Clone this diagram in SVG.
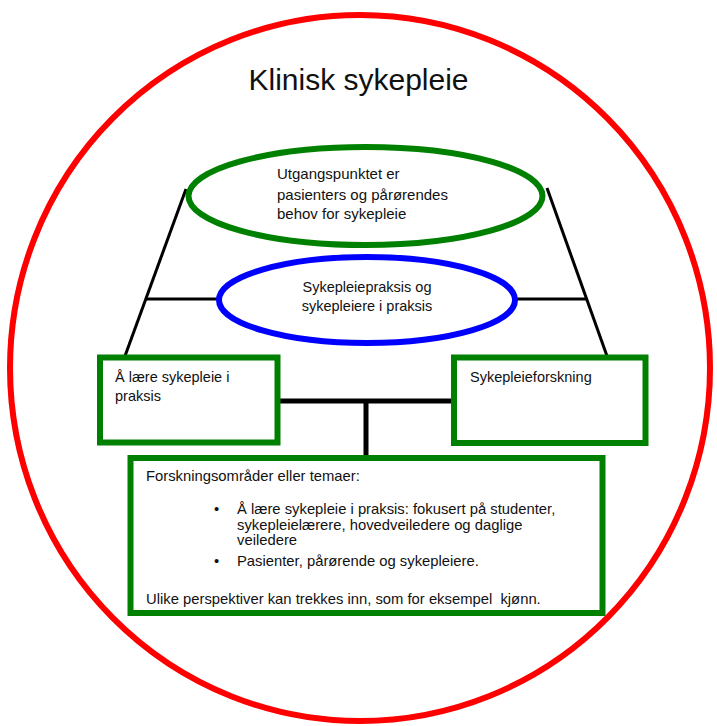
<svg xmlns="http://www.w3.org/2000/svg" width="717" height="726" viewBox="0 0 717 726">
<style>
text { font-family: "Liberation Sans", Arial, sans-serif; fill: #111; }
.e { font-size: 15px; }
.t { font-size: 14.5px; }
.s { font-size: 14.8px; }
.box { fill: #fff; stroke: #008000; stroke-width: 6; }
.ln { stroke: #000; stroke-width: 3; fill: none; }
.thick { stroke: #000; stroke-width: 5; fill: none; }
</style>
<rect x="0" y="0" width="717" height="726" fill="#fff"/>
<g id="outer-circle">
  <ellipse cx="360" cy="368" rx="350" ry="353" fill="none" stroke="#ff0000" stroke-width="6"/>
  <text x="358.5" y="90" text-anchor="middle" style="font-size:30px">Klinisk sykepleie</text>
</g>
<g id="connectors">
  <line class="ln" x1="186" y1="189" x2="125" y2="356"/>
  <line class="ln" x1="547" y1="188" x2="607" y2="356"/>
  <line class="ln" x1="146" y1="299" x2="219" y2="299"/>
  <line class="ln" x1="515" y1="299" x2="587" y2="299"/>
  <line class="thick" x1="277" y1="401" x2="454" y2="401"/>
  <line class="thick" x1="366" y1="401" x2="366" y2="458"/>
</g>
<g id="node-behov">
  <ellipse cx="365.5" cy="196" rx="177" ry="49" fill="#fff" stroke="#008000" stroke-width="6"/>
  <text class="e" x="277" y="179">Utgangspunktet er</text>
  <text class="e" x="277" y="200">pasienters og pårørendes</text>
  <text class="e" x="277" y="219">behov for sykepleie</text>
</g>
<g id="node-praksis">
  <ellipse cx="367" cy="300" rx="148" ry="43" fill="#fff" stroke="#0000ff" stroke-width="6"/>
  <text class="t" x="367" y="292" text-anchor="middle">Sykepleiepraksis og</text>
  <text class="t" x="367" y="311" text-anchor="middle">sykepleiere i praksis</text>
</g>
<g id="node-laere">
  <rect class="box" x="100" y="357.5" width="177.5" height="85"/>
  <text class="t" x="115" y="382">Å lære sykepleie i</text>
  <text class="t" x="115" y="401">praksis</text>
</g>
<g id="node-forskning">
  <rect class="box" x="454" y="357.5" width="191.5" height="85.5"/>
  <text class="t" x="470" y="382">Sykepleieforskning</text>
</g>
<g id="node-temaer">
  <rect class="box" x="130.5" y="458" width="472" height="155"/>
  <text class="s" x="146" y="481">Forskningsområder eller temaer:</text>
  <text class="s" x="214" y="514">•</text>
  <text class="s" x="237" y="514">Å lære sykepleie i praksis: fokusert på studenter,</text>
  <text class="s" x="237" y="530">sykepleielærere, hovedveiledere og daglige</text>
  <text class="s" x="237" y="545">veiledere</text>
  <text class="s" x="214" y="566">•</text>
  <text class="s" x="237" y="566">Pasienter, pårørende og sykepleiere.</text>
  <text class="s" x="146" y="604" xml:space="preserve">Ulike perspektiver kan trekkes inn, som for eksempel  kjønn.</text>
</g>
</svg>
